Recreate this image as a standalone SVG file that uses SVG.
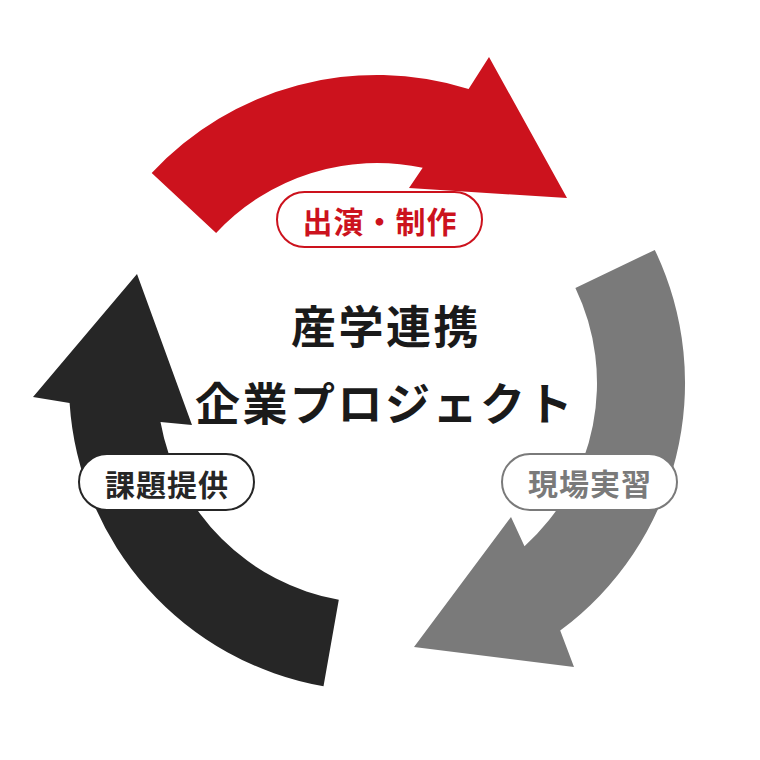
<svg xmlns="http://www.w3.org/2000/svg" width="760" height="760" viewBox="0 0 760 760">
<style>
text{font-family:"Noto Sans CJK JP","Noto Sans",sans-serif;font-weight:700;text-anchor:middle}
.pill{fill:#fff;stroke-width:2}
.lbl{font-size:30px;letter-spacing:1px}
.title{font-size:45px;letter-spacing:2.5px;fill:#1a1a1a}
</style>
<rect width="760" height="760" fill="#fff"/>
<g id="connectors">
<path id="arrow-red" fill="#cc121d" d="M151.7 172.9 A308 308 0 0 1 468.6 88.9 L489 57 L567 198 L409 188 L422.7 167.8 A220 220 0 0 0 216.1 233 Z"/>
<path id="arrow-gray" fill="#7a7a7a" d="M654.8 249.9 A308 308 0 0 1 560.2 630.6 L574 667 L414 647 L511 517 L524.5 546.2 A220 220 0 0 0 575.4 287.9 Z"/>
<path id="arrow-black" fill="#262626" d="M323.5 686.3 A308 308 0 0 1 69.6 402.9 L33 397 L137 274 L192 425 L160.5 422 A220 220 0 0 0 338.8 599.7 Z"/>
</g>
<g id="node-center">
<text class="title" x="386" y="344">産学連携</text>
<text class="title" x="385" y="421">企業プロジェクト</text>
</g>
<g id="node-red">
<rect class="pill" x="277" y="192" width="205" height="55" rx="27.5" stroke="#cc121d"/>
<text class="lbl" x="380" y="233" fill="#cc121d">出演・制作</text>
</g>
<g id="node-gray">
<rect class="pill" x="502" y="454" width="175" height="56" rx="28" stroke="#7a7a7a"/>
<text class="lbl" x="590" y="495" fill="#7a7a7a">現場実習</text>
</g>
<g id="node-black">
<rect class="pill" x="79" y="454" width="175" height="56" rx="28" stroke="#262626"/>
<text class="lbl" x="167" y="496" fill="#262626">課題提供</text>
</g>
</svg>
